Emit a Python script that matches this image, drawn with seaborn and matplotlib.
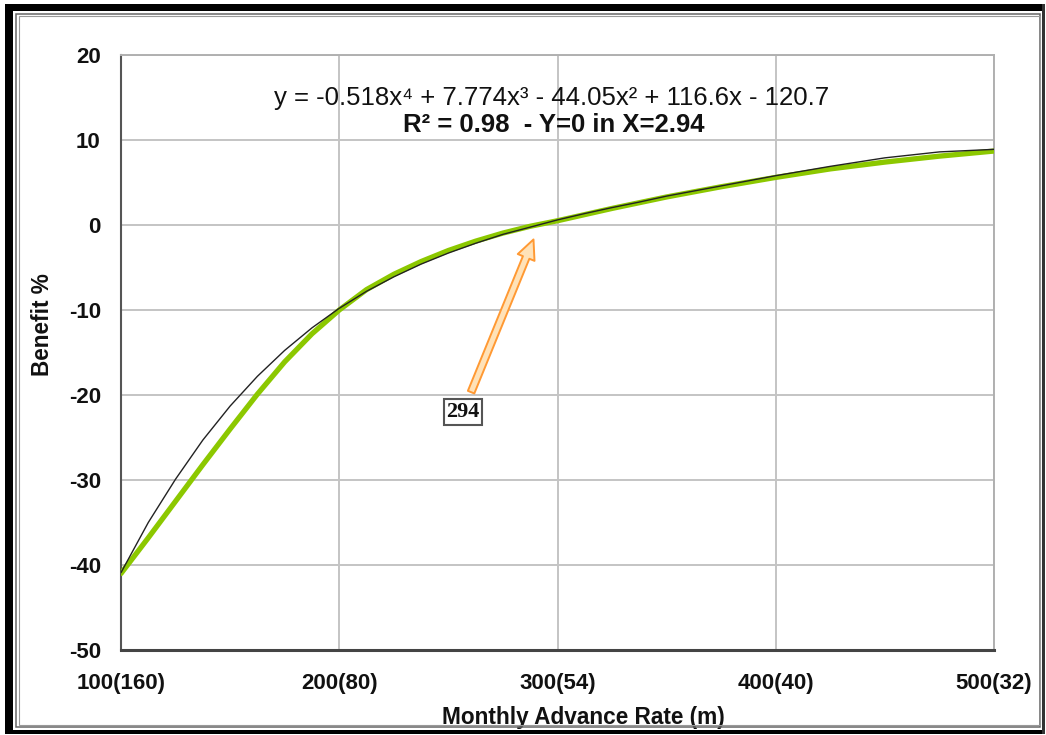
import matplotlib.pyplot as plt
import numpy as np
import pandas as pd
import seaborn as sns
from matplotlib.patches import Rectangle

data_x = [1.0, 1.125, 1.25, 1.375, 1.5, 1.625, 1.75, 1.875, 2.0, 2.125, 2.25, 2.375, 2.5,
          2.625, 2.75, 2.875, 3.0, 3.25, 3.5, 3.75, 4.0, 4.25, 4.5, 4.75, 5.0]
data_y = [-41.0, -36.8, -32.5, -28.2, -24.0, -19.9, -16.1, -12.8, -10.0, -7.6, -5.8, -4.3, -3.0,
          -1.9, -0.95, -0.15, 0.5, 1.95, 3.3, 4.5, 5.6, 6.6, 7.4, 8.1, 8.7]

# polynomial trendline (black)
fit_x = [1.0, 1.125, 1.25, 1.375, 1.5, 1.625, 1.75, 1.875, 2.0, 2.125, 2.25, 2.375, 2.5,
         2.625, 2.75, 2.875, 3.0, 3.125, 3.25, 3.375, 3.5, 3.75, 4.0, 4.25, 4.5, 4.75, 5.0]
fit_y = [-40.9, -35.0, -29.9, -25.3, -21.3, -17.8, -14.75, -12.1, -9.8, -7.8, -6.1, -4.6, -3.3,
         -2.15, -1.1, -0.25, 0.6, 1.35, 2.05, 2.7, 3.4, 4.6, 5.8, 6.9, 7.9, 8.6, 8.9]

tick_pos = [1, 2, 3, 4, 5]
tick_labels = ["100(160)", "200(80)", "300(54)", "400(40)", "500(32)"]
y_ticks = [20, 10, 0, -10, -20, -30, -40, -50]

equation = "y = -0.518x\u2074 + 7.774x\u00b3 - 44.05x\u00b2 + 116.6x - 120.7"
r2_text = "R\u00b2 = 0.98  - Y=0 in X=2.94"
arrow_label = "294"

W, H = 1046, 735
sns.set_theme(style="whitegrid")
plt.rcParams["font.family"] = ["Liberation Sans", "DejaVu Sans"]
plt.rcParams["axes.unicode_minus"] = False

fig = plt.figure(figsize=(W / 100, H / 100), dpi=100)
fig.patch.set_facecolor("white")
ax = fig.add_axes([121 / W, 1 - 650 / H, (994 - 121) / W, (650 - 55) / H])
ax.set_facecolor("white")

df_data = pd.DataFrame({"x": data_x, "y": data_y})
df_fit = pd.DataFrame({"x": fit_x, "y": fit_y})

sns.lineplot(data=df_data, x="x", y="y", ax=ax, color="#8CC800", linewidth=3.8,
             solid_capstyle="round", solid_joinstyle="round", zorder=3)
sns.lineplot(data=df_fit, x="x", y="y", ax=ax, color="#222222", linewidth=1.0,
             solid_joinstyle="round", zorder=4)

ax.set_xlim(1, 5)
ax.set_ylim(-50, 20)
ax.set_xticks(tick_pos)
ax.set_xticklabels(tick_labels)
ax.set_yticks(y_ticks)

ax.grid(True, color="#c4c4c4", linewidth=1.4)
for side in ["top", "right"]:
    ax.spines[side].set_color("#b0b0b0")
    ax.spines[side].set_linewidth(1.4)
ax.spines["left"].set_color("#555555")
ax.spines["left"].set_linewidth(1.5)
ax.spines["bottom"].set_color("#444444")
ax.spines["bottom"].set_linewidth(2.2)

ax.tick_params(axis="both", which="major", length=4.5, width=1.2, color="#aaaaaa",
               direction="out", labelsize=16, labelcolor="#111111")
ax.tick_params(axis="y", pad=10)
ax.tick_params(axis="x", pad=12)
for lab in ax.get_xticklabels() + ax.get_yticklabels():
    lab.set_fontweight("bold")

ax.set_xlabel("Monthly Advance Rate (m)", fontsize=16.3, fontweight="bold", color="#111111")
ax.set_ylabel("Benefit %", fontsize=16.3, fontweight="bold", color="#111111")
ax.xaxis.set_label_coords(0.530, -0.094)
ax.yaxis.set_label_coords(-0.077, 0.547)

ax.text(552 / W, 1 - 98 / H, equation, transform=fig.transFigure, ha="center", va="center",
        fontsize=18.5, color="#111111")
ax.text(554 / W, 1 - 125 / H, r2_text, transform=fig.transFigure, ha="center", va="center",
        fontsize=18.5, fontweight="bold", color="#111111")

ax.annotate(arrow_label, xy=(2.89, -1.7), xytext=(2.567, -22.0),
            ha="center", va="center", fontsize=16, fontweight="bold",
            family=["Liberation Serif", "DejaVu Serif"], color="#111111", zorder=6,
            bbox=dict(boxstyle="square,pad=0.12", fc="white", ec="#555555", lw=1.5),
            arrowprops=dict(arrowstyle="simple,head_length=0.7,head_width=0.65,tail_width=0.25",
                            mutation_scale=20, fc="#ffe2b8", ec="#ff9933", lw=1.4,
                            shrinkA=5, shrinkB=0))


def frame_rect(x0, y0, x1, y1, **kw):
    fig.add_artist(Rectangle((x0 / W, 1 - y1 / H), (x1 - x0) / W, (y1 - y0) / H,
                             transform=fig.transFigure, **kw))


# picture frame around the chart
frame_rect(5, 4, 13, 734, fc="black", ec="none")
frame_rect(5, 4, 1045, 11, fc="black", ec="none")
frame_rect(5, 730, 1045, 734, fc="black", ec="none")
frame_rect(1042, 4, 1045, 734, fc="#333333", ec="none")
frame_rect(16, 14, 1040, 727, fill=False, ec="#666666", lw=1.1)
frame_rect(19, 16, 1040, 725, fill=False, ec="#999999", lw=0.8)

fig.savefig("out.png", dpi=100)
